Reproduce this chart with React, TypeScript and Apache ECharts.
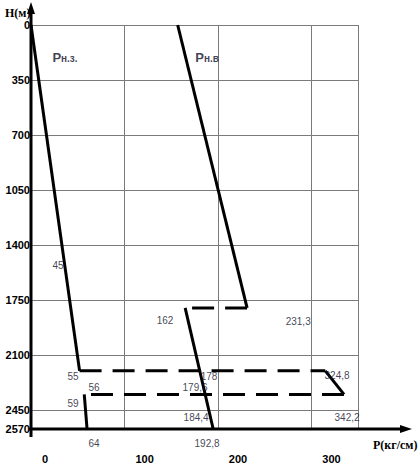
import React, { useEffect, useRef } from 'react';
import * as echarts from 'echarts';

// Depth axis (H, m) and pressure axis (P, kg/cm)
const depthMax = 2570;
const depthStep = 350;
const pressureMax = 350;
const pressureStep = 100;
const hiddenPressureLabels = [350];

// Curve Рн.з. (vertices, drawn order)
const pnzP = [0, 52, 315, 335, 57, 60];
const pnzH = [0, 2200, 2200, 2350, 2350, 2570];
const pnzDashed = [false, true, false, true, false];

// Curve Рн.в (vertices, drawn order)
const pnvP = [157, 231.3, 165, 195];
const pnvH = [0, 1800, 1800, 2570];
const pnvDashed = [false, true, false];

// Value annotations
const valueLabels = ['45', '55', '56', '59', '64', '162', '231,3', '178', '179,6', '184,4', '192,8', '324,8', '342,2'];
const valueLabelP = [29, 45, 67.5, 45, 67.5, 143.5, 286, 190.6, 175.6, 176.7, 188.4, 327.6, 338.3];
const valueLabelH = [1527, 2233, 2303, 2405, 2665, 1877, 1883, 2233, 2303, 2500, 2665, 2227, 2500];

// Curve names
const curveNames = ['Рн.з.', 'Рн.в'];
const curveNameP = [36.4, 188.4];
const curveNameH = [204, 204];

const GRID = { left: 31, top: 25, width: 327, height: 404 };

function segmentSeries(ps: number[], hs: number[], dashed: boolean[], id: string) {
  const out: any[] = [];
  for (let i = 0; i < ps.length - 1; i++) {
    out.push({
      type: 'line',
      id: id + i,
      data: [[ps[i], hs[i]], [ps[i + 1], hs[i + 1]]],
      symbol: 'none',
      clip: false,
      lineStyle: {
        color: '#000',
        width: 3,
        type: dashed[i] ? [22, 11] : 'solid',
        cap: 'butt',
        join: 'miter',
      },
      z: 3,
    });
  }
  return out;
}

export default function App() {
  const ref = useRef<HTMLDivElement>(null);
  useEffect(() => {
    if (!ref.current) return;
    const chart = echarts.init(ref.current, null, { renderer: 'svg' });
    const gx = GRID.left;
    const gb = GRID.top + GRID.height;
    const option: any = {
      animation: false,
      backgroundColor: '#fff',
      grid: { left: GRID.left, top: GRID.top, width: GRID.width, height: GRID.height },
      xAxis: {
        type: 'value',
        min: 0,
        max: pressureMax,
        interval: pressureStep,
        axisLine: { show: false },
        axisTick: { show: false },
        splitLine: { show: true, lineStyle: { color: '#7a7a7a', width: 1 } },
        axisLabel: {
          formatter: (v: number) => (hiddenPressureLabels.includes(v) ? '' : String(v)),
          align: 'left',
          padding: [0, 0, 0, 11],
          margin: 24,
          fontFamily: 'Liberation Sans',
          fontWeight: 'bold',
          fontSize: 11,
          color: '#000',
          showMaxLabel: true,
          showMinLabel: true,
        },
      },
      yAxis: {
        type: 'value',
        inverse: true,
        min: 0,
        max: depthMax,
        interval: depthStep,
        axisLine: { show: false },
        axisTick: { show: false },
        splitLine: { show: true, lineStyle: { color: '#7a7a7a', width: 1 } },
        axisLabel: {
          formatter: (v: number) => String(v),
          margin: 1,
          padding: [8, 0, 0, 0],
          fontFamily: 'Liberation Sans',
          fontWeight: 'bold',
          fontSize: 11,
          color: '#000',
          showMaxLabel: true,
          showMinLabel: true,
        },
      },
      series: [
        ...segmentSeries(pnzP, pnzH, pnzDashed, 'pnz'),
        ...segmentSeries(pnvP, pnvH, pnvDashed, 'pnv'),
        {
          type: 'scatter',
          id: 'values',
          symbolSize: 0,
          clip: false,
          data: valueLabels.map((t, i) => ({ value: [valueLabelP[i], valueLabelH[i]], name: t })),
          label: {
            show: true,
            position: 'inside',
            formatter: (p: any) => p.name,
            fontFamily: 'Liberation Sans',
            fontSize: 10,
            color: '#10102a',
          },
          z: 4,
        },
        {
          type: 'scatter',
          id: 'names',
          symbolSize: 0,
          clip: false,
          data: curveNames.map((t, i) => ({ value: [curveNameP[i], curveNameH[i]], name: t })),
          label: {
            show: true,
            position: 'inside',
            formatter: (p: any) => `{a|${p.name.slice(0, 1)}}{b|${p.name.slice(1)}}`,
            rich: {
              a: { fontFamily: 'Liberation Sans', fontWeight: 'bold', fontSize: 13, color: '#10102a' },
              b: { fontFamily: 'Liberation Sans', fontWeight: 'bold', fontSize: 10, color: '#10102a', padding: [3, 0, 0, 0] },
            },
          },
          z: 4,
        },
      ],
      graphic: [
        {
          type: 'line',
          shape: { x1: gx, y1: 10, x2: gx, y2: gb + 8 },
          style: { stroke: '#000', lineWidth: 3 },
          z: 10,
        },
        {
          type: 'polygon',
          shape: { points: [[gx, 2], [gx - 4, 14], [gx + 4, 14]] },
          style: { fill: '#000' },
          z: 10,
        },
        {
          type: 'line',
          shape: { x1: gx - 2, y1: gb, x2: 403, y2: gb },
          style: { stroke: '#000', lineWidth: 3 },
          z: 10,
        },
        {
          type: 'polygon',
          shape: { points: [[412, gb], [400, gb - 4], [400, gb + 4]] },
          style: { fill: '#000' },
          z: 10,
        },
        {
          type: 'text',
          x: 5,
          y: 7,
          style: {
            text: 'H(м)',
            font: 'bold 12px "Liberation Serif"',
            fill: '#000',
          },
          z: 11,
        },
        {
          type: 'text',
          x: 373,
          y: 439,
          style: {
            text: 'P(кг/см)',
            font: 'bold 12px "Liberation Serif"',
            fill: '#000',
          },
          z: 11,
        },
      ],
    };
    chart.setOption(option);
    return () => chart.dispose();
  }, []);
  return (
    <div
      ref={ref}
      style={{ position: 'fixed', left: 0, top: 0, width: 419, height: 470, background: '#fff' }}
    />
  );
}
